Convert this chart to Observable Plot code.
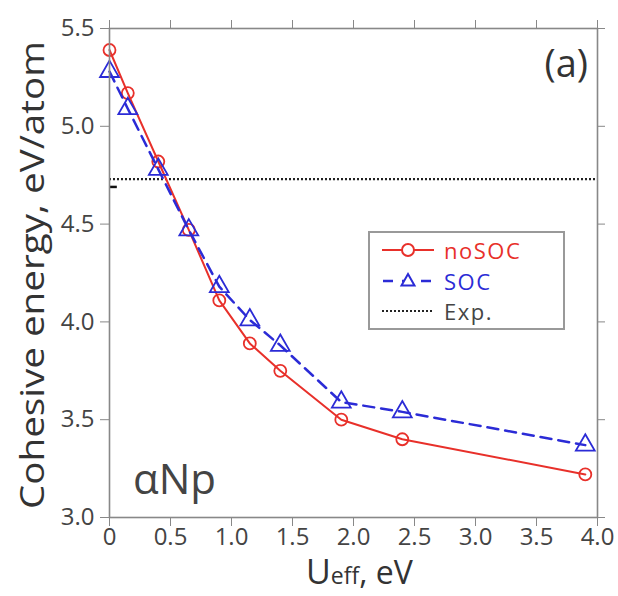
<!DOCTYPE html>
<html><head>
<meta charset="utf-8">
<script src="https://cdn.jsdelivr.net/npm/d3@7"></script>
<script src="https://cdn.jsdelivr.net/npm/@observablehq/plot@0.6"></script>
<style>
body{margin:0;background:#fff}
#c{position:relative;width:618px;height:596px;font-family:"Open Sans",sans-serif}
#legend{position:absolute;left:368px;top:231px;width:193px;height:95px;border:2px solid #999;background:#fff}
.row{position:absolute;left:0;height:30px;display:flex;align-items:center}
.row span{font-size:22px;letter-spacing:1.5px;margin-left:8px;line-height:30px}
</style>
</head><body>
<div id="c"></div>
<script>
// ---- data ----
const uEff  = [0, 0.15, 0.4, 0.65, 0.9, 1.15, 1.4, 1.9, 2.4, 3.9];
const noSOC = [5.39, 5.17, 4.82, 4.47, 4.11, 3.89, 3.75, 3.50, 3.40, 3.22];
const SOC   = [5.28, 5.09, 4.78, 4.47, 4.18, 4.01, 3.88, 3.59, 3.54, 3.37];
const expValue = [4.73];
const expMarker = [{x1: 0, x2: 0.06, y: 4.69}];
const xTicks = [0, 0.5, 1.0, 1.5, 2.0, 2.5, 3.0, 3.5, 4.0];
const yTicks = [3.0, 3.5, 4.0, 4.5, 5.0, 5.5];
const seriesNames = ["noSOC", "SOC", "Exp."];

const red = "#e8302a", blue = "#2b2bd6";
const rowsNo = uEff.map((x, i) => ({x, y: noSOC[i]}));
const rowsSo = uEff.map((x, i) => ({x, y: SOC[i]}));

const W = 618, H = 596;
const svg = Plot.plot({
  width: W, height: H,
  marginLeft: 109, marginRight: 21, marginTop: 28, marginBottom: 79,
  style: {fontFamily: "'Open Sans', sans-serif", fontSize: "24px", color: "#444", background: "#fff"},
  x: {domain: [0, 4], label: null},
  y: {domain: [3, 5.5], label: null},
  marks: [
    Plot.ruleY(expValue, {stroke: "#222", strokeWidth: 2.2, strokeDasharray: "2,2"}),
    Plot.link(expMarker, {x1: "x1", x2: "x2", y1: "y", y2: "y", stroke: "#111", strokeWidth: 2.5}),
    Plot.line(rowsNo, {x: "x", y: "y", stroke: red, strokeWidth: 2}),
    Plot.dot(rowsNo, {x: "x", y: "y", r: 6, stroke: red, strokeWidth: 1.8, fill: "none"}),
    Plot.line(rowsSo, {x: "x", y: "y", stroke: blue, strokeWidth: 2.5, strokeDasharray: "11,7"}),
    Plot.dot(rowsSo, {x: "x", y: "y", symbol: "triangle", r: 7, stroke: blue, strokeWidth: 1.8, fill: "none"}),
    Plot.frame({stroke: "#888", strokeWidth: 1.6}),
    Plot.axisX({ticks: xTicks, tickFormat: d => d === 0 ? "0" : d3.format(".1f")(d), tickSize: 9, tickPadding: 1, stroke: "#888", fill: "#444", label: null, fontSize: 24}),
    Plot.axisX({anchor: "top", ticks: xTicks, tickFormat: () => "", tickSize: 9, stroke: "#888", label: null}),
    Plot.axisY({ticks: yTicks, tickFormat: ".1f", tickSize: 9, tickPadding: 6, stroke: "#888", fill: "#444", label: null, fontSize: 24}),
    Plot.axisY({anchor: "right", ticks: yTicks, tickFormat: () => "", tickSize: 7, stroke: "#888", label: null})
  ]
});
document.getElementById("c").appendChild(svg);

const s = d3.select(svg);
s.selectAll('g[aria-label$="tick label"]').attr("font-size", 24).style("font-size", "24px");
// y label
s.append("text")
  .attr("transform", "translate(44,275) rotate(-90)")
  .attr("text-anchor", "middle")
  .attr("font-size", 33).attr("fill", "#333")
  .attr("textLength", 468).attr("lengthAdjust", "spacingAndGlyphs")
  .text("Cohesive energy, eV/atom");
// x label
const xl = s.append("text").attr("x", 306).attr("y", 584)
  .attr("text-anchor", "start").attr("fill", "#333");
xl.append("tspan").attr("font-size", 34).text("U");
xl.append("tspan").attr("font-size", 23).text("eff");
xl.append("tspan").attr("font-size", 32).text(", eV");
// annotations
s.append("text").attr("x", 588).attr("y", 77).attr("text-anchor", "end")
  .attr("font-size", 38).attr("fill", "#333").text("(a)");
s.append("text").attr("x", 133).attr("y", 494).attr("text-anchor", "start")
  .attr("font-size", 42).attr("fill", "#444").text("αNp");

// legend
const leg = document.createElement("div");
leg.id = "legend";
const swatches = [
  `<svg width="56" height="20"><line x1="2" x2="54" y1="10" y2="10" stroke="${red}" stroke-width="2.2"/><circle cx="28" cy="10" r="6" fill="#fff" stroke="${red}" stroke-width="2"/></svg>`,
  `<svg width="56" height="20"><line x1="2" x2="54" y1="10" y2="10" stroke="${blue}" stroke-width="2.6" stroke-dasharray="10,9" stroke-dashoffset="-1"/><path d="M28,3 L34.5,14.5 L21.5,14.5 Z" fill="#fff" stroke="${blue}" stroke-width="2"/></svg>`,
  `<svg width="56" height="20"><line x1="2" x2="54" y1="10" y2="10" stroke="#222" stroke-width="2" stroke-dasharray="2,2"/></svg>`
];
const colors = [red, blue, "#444"];
seriesNames.forEach((n, i) => {
  const r = document.createElement("div");
  r.className = "row";
  r.style.top = (2 + i * 30.5) + "px";
  r.style.left = "10px";
  r.innerHTML = swatches[i] + `<span style="color:${colors[i]}">${n}</span>`;
  leg.appendChild(r);
});
document.getElementById("c").appendChild(leg);
</script>
</body></html>
